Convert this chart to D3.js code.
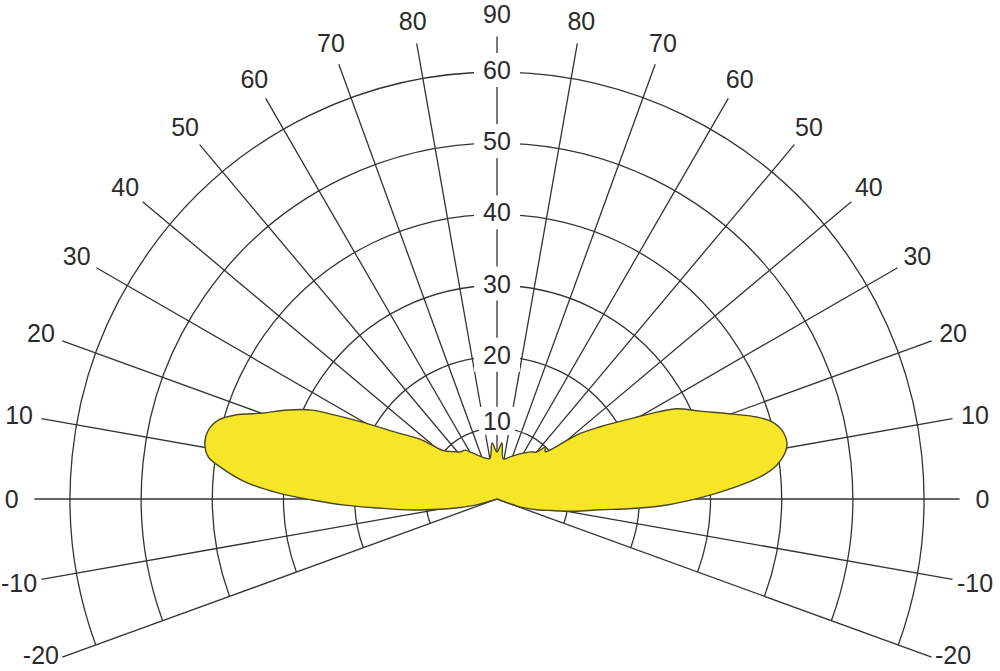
<!DOCTYPE html>
<html>
<head>
<meta charset="utf-8">
<script src="https://cdn.jsdelivr.net/npm/d3@7"></script>
<style>
  html, body { margin: 0; padding: 0; background: #fff; }
  svg { display: block; }
  text { font-family: "Liberation Sans", Arial, sans-serif; fill: #2b2b2b; }
</style>
</head>
<body>
<svg id="chart" width="1000" height="671"></svg>
<script>
// ---- data ----
const ringValues = [10, 20, 30, 40, 50, 60];
const spokeAngles = [-20, -10, 0, 10, 20, 30, 40, 50, 60, 70, 80, 90];

// right half (C0): elevation angle (deg, from horizontal) and intensity
const rightAngles = [-21, -19, -15, -12, -9, -6, -4, -2, 0.3, 2.7, 4.8, 6.9, 9.1, 10.9, 13.2, 15.6, 17.5, 19.8, 23.4, 26.6, 28.5, 30.8, 35, 38.7, 42.8, 44.5, 47, 50, 54.9, 60.5, 72.8, 81, 85, 90];
const rightValues = [0, 3.4, 5.8, 7.8, 11, 14.5, 19.1, 23.9, 28.5, 33.2, 37.1, 39.6, 41.0, 41.5, 41.3, 40.2, 38.3, 35.2, 31.1, 28.3, 25.6, 22.2, 17.7, 14.4, 10.1, 9.5, 9.9, 8.6, 8.1, 7.4, 6.2, 5.7, 7.9, 6.6];

// left half (C180): elevation angle (deg, from horizontal) and intensity
const leftAngles = [85, 80, 73.7, 61.5, 56.9, 52, 48.2, 41.7, 38.2, 33.3, 29.7, 27.4, 25.7, 23.1, 20.1, 17.8, 15.8, 13.4, 10.9, 8.3, 6.4, 3.9, 1.6, -0.3, -2.3, -4.3, -7.4, -10, -13, -16, -17.5];
const leftValues = [7.9, 5.8, 6.0, 7.4, 8.2, 8.4, 8.9, 10.3, 13.4, 17.1, 21.8, 25.6, 28.8, 31.9, 35.1, 38.6, 40.7, 41.7, 41.8, 41.0, 38.9, 35.5, 30.8, 26.0, 21.4, 16.8, 12.0, 8.3, 5.3, 3.0, 0];

// ---- layout ----
const cx = 497, cy = 499;
const W = 1000, H = 671;
const svg = d3.select("#chart");
const r = d3.scaleLinear().domain([0, 60]).range([0, 427]);
const spokeEnd = r(65);
const labelR = r(68.2);
const gridColor = "#333";
const fontSize = 25;
const rad = d => d * Math.PI / 180;

const g = svg.append("g").attr("transform", `translate(${cx},${cy})`);
const grid = g.append("g");

// rings (arcs from -20 on the right over the top to -20 on the left)
ringValues.forEach(v => {
  const p = d3.path();
  p.arc(0, 0, r(v), rad(20), rad(-200), true);
  grid.append("path").attr("d", p.toString())
    .attr("fill", "none").attr("stroke", gridColor).attr("stroke-width", 1.3);
});

// spokes on both sides
const sides = [1, -1];
sides.forEach(s => {
  spokeAngles.forEach(a => {
    if (s === -1 && a === 90) return;
    const x = s * spokeEnd * Math.cos(rad(a));
    const y = -spokeEnd * Math.sin(rad(a));
    grid.append("line").attr("x1", 0).attr("y1", 0).attr("x2", x).attr("y2", y)
      .attr("stroke", gridColor).attr("stroke-width", 1.3);
    const ly = Math.min(-labelR * Math.sin(rad(a)), H - cy - 16);
    g.append("text")
      .attr("x", s * labelR * Math.cos(rad(a)))
      .attr("y", ly)
      .attr("text-anchor", "middle").attr("dy", "0.36em")
      .attr("font-size", fontSize)
      .text(a);
  });
});

// ring labels on the vertical spoke with white background
ringValues.forEach(v => {
  const y = -r(v) - (v === 10 ? 7 : 2);
  if (v !== 10) {
    g.append("rect").attr("x", -23).attr("y", y - 17).attr("width", 46).attr("height", 34).attr("fill", "#fff");
  } else {
    g.append("rect").attr("x", -18).attr("y", y - 14).attr("width", 36).attr("height", 28).attr("fill", "#fff");
  }
  g.append("text").attr("x", 0).attr("y", y)
    .attr("text-anchor", "middle").attr("dy", "0.36em")
    .attr("font-size", fontSize).text(v);
});

// light distribution shape
const pts = [];
rightAngles.forEach((a, i) => pts.push([rad(90 - a), r(rightValues[i])]));
leftAngles.forEach((a, i) => pts.push([rad(a - 90), r(leftValues[i])]));

const shape = d3.lineRadial()
  .angle(d => d[0]).radius(d => d[1])
  .curve(d3.curveCatmullRomClosed.alpha(0.5));

g.append("path").attr("d", shape(pts))
  .attr("fill", "#f5e628").attr("stroke", "#4a4622").attr("stroke-width", 1.4)
  .attr("stroke-linejoin", "round");
</script>
</body>
</html>
